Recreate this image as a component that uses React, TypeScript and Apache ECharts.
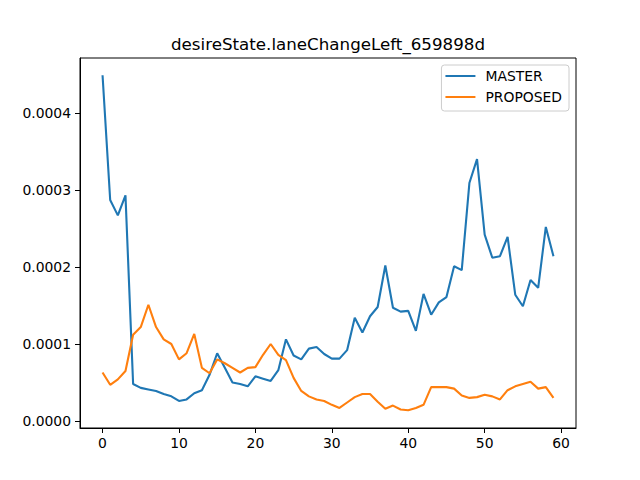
import React, { useEffect, useRef } from "react";
import * as echarts from "echarts";

const titleText = "desireState.laneChangeLeft_659898d";
const seriesNames = ["MASTER", "PROPOSED"];
const xTicks = [0, 10, 20, 30, 40, 50, 60];
const yTicks = [0, 0.0001, 0.0002, 0.0003, 0.0004];

// values in units of 1e-4
const master = [
  4.49, 2.87, 2.67, 2.93, 0.48, 0.43, 0.41, 0.39, 0.35, 0.32,
  0.26, 0.28, 0.36, 0.4, 0.6, 0.88, 0.69, 0.5, 0.48, 0.45,
  0.58, 0.55, 0.52, 0.66, 1.06, 0.85, 0.8, 0.94, 0.96, 0.87,
  0.81, 0.81, 0.92, 1.34, 1.15, 1.36, 1.48, 2.02, 1.47, 1.42,
  1.43, 1.17, 1.65, 1.38, 1.54, 1.61, 2.01, 1.96, 3.09, 3.4,
  2.42, 2.12, 2.14, 2.39, 1.64, 1.49, 1.83, 1.73, 2.52, 2.14,
];
const proposed = [
  0.63, 0.47, 0.54, 0.65, 1.12, 1.22, 1.51, 1.22, 1.06, 1.0,
  0.8, 0.88, 1.13, 0.69, 0.62, 0.8, 0.75, 0.69, 0.63, 0.69,
  0.7, 0.86, 1.0, 0.86, 0.79, 0.56, 0.39, 0.32, 0.28, 0.26,
  0.21, 0.17, 0.24, 0.31, 0.35, 0.35, 0.25, 0.16, 0.2, 0.15,
  0.14, 0.17, 0.21, 0.44, 0.44, 0.44, 0.42, 0.33, 0.3, 0.31,
  0.34, 0.32, 0.28, 0.4, 0.45, 0.48, 0.51, 0.42, 0.44, 0.3,
];

const FONT = "DejaVu Sans";

export default function App() {
  const ref = useRef<HTMLDivElement>(null);
  useEffect(() => {
    if (!ref.current) return;
    document.body.style.margin = "0";
    const chart = echarts.init(ref.current, null, { renderer: "svg" });
    const toPairs = (arr: number[]) => arr.map((v, i) => [i, v * 1e-4]);
    chart.setOption({
      animation: false,
      backgroundColor: "#ffffff",
      textStyle: { fontFamily: FONT },
      graphic: [
        {
          type: "text",
          x: 328,
          y: 44,
          style: {
            text: titleText,
            fontFamily: FONT,
            fontSize: 16.7,
            fill: "#000",
            align: "center",
            verticalAlign: "middle",
          },
        },
      ],
      grid: {
        left: 80,
        top: 58,
        width: 496,
        height: 370,
        show: true,
        borderColor: "#000",
        borderWidth: 1,
        backgroundColor: "transparent",
      },
      legend: {
        data: seriesNames,
        orient: "vertical",
        right: 71,
        top: 65,
        icon: "rect",
        itemWidth: 30,
        itemHeight: 2,
        itemGap: 7,
        padding: [4, 7, 7, 4],
        borderColor: "#cccccc",
        borderWidth: 1,
        borderRadius: 3,
        backgroundColor: "rgba(255,255,255,0.8)",
        textStyle: {
          fontFamily: FONT,
          fontSize: 13.9,
          color: "#000",
          lineHeight: 14,
          padding: [0, 0, 0, 5],
        },
      },
      xAxis: {
        type: "value",
        min: -2.95,
        max: 61.95,
        splitLine: { show: false },
        axisLine: { show: true, onZero: false, lineStyle: { color: "#000", width: 1 } },
        axisTick: {
          show: true,
          length: 5,
          customValues: xTicks,
          lineStyle: { color: "#000", width: 1 },
        },
        axisLabel: {
          customValues: xTicks,
          fontFamily: FONT,
          fontSize: 13.9,
          color: "#000",
          margin: 8,
        },
      },
      yAxis: {
        type: "value",
        min: -0.0000091,
        max: 0.0004714,
        splitLine: { show: false },
        axisLine: { show: true, onZero: false, lineStyle: { color: "#000", width: 1 } },
        axisTick: {
          show: true,
          length: 5,
          customValues: yTicks,
          lineStyle: { color: "#000", width: 1 },
        },
        axisLabel: {
          customValues: yTicks,
          fontFamily: FONT,
          fontSize: 13.9,
          color: "#000",
          margin: 9,
          formatter: (v: number) => v.toFixed(4),
        },
      },
      series: [
        {
          name: seriesNames[0],
          type: "line",
          data: toPairs(master),
          showSymbol: false,
          color: "#1f77b4",
          lineStyle: { color: "#1f77b4", width: 2.1 },
        },
        {
          name: seriesNames[1],
          type: "line",
          data: toPairs(proposed),
          showSymbol: false,
          color: "#ff7f0e",
          lineStyle: { color: "#ff7f0e", width: 2.1 },
        },
      ],
    });
    return () => chart.dispose();
  }, []);
  return (
    <div
      ref={ref}
      style={{ width: 640, height: 480, position: "fixed", left: 0, top: 0 }}
    />
  );
}
